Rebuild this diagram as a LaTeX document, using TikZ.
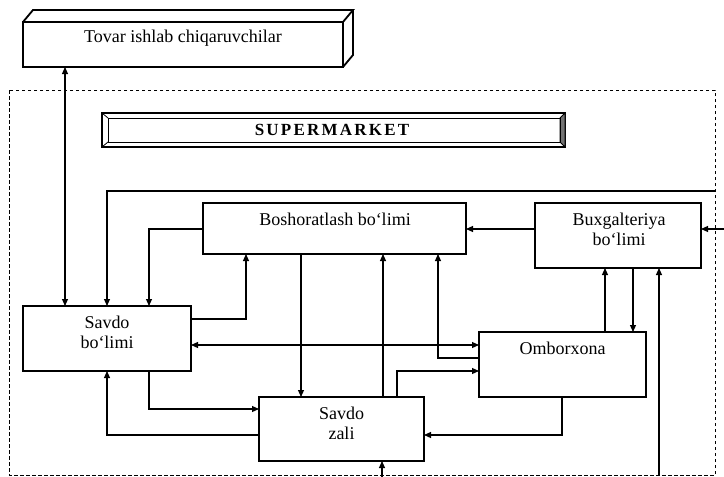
\documentclass[tikz,border=0pt]{standalone}
\usepackage{fontspec}
\setmainfont{Liberation Serif}
\usetikzlibrary{arrows.meta}
\begin{document}
\begin{tikzpicture}[x=1pt,y=-1pt,
  box/.style={draw, line width=1.2pt, inner sep=0pt, outer sep=0pt},
  lbl/.style={font=\fontsize{18}{20}\selectfont, anchor=base, inner sep=0pt},
  conn/.style={line width=1.1pt},
  arw/.style={-{Triangle[length=7pt,width=6pt]}},
  dbl/.style={{Triangle[length=7pt,width=6pt]}-{Triangle[length=7pt,width=6pt]}},
  bound/.style={line width=0.9pt, dash pattern=on 3.5pt off 2.5pt},
  solid3d/.style={line width=1.8pt, line join=miter}
]
\useasboundingbox (0,0) rectangle (724,477);

% outer dashed boundary
\draw[bound] (9,90) rectangle (715,475);

% top 3D box
\node[box, solid3d, minimum width=320, minimum height=45] (tov) at (183,44.5) {};
\draw[solid3d] (tov.north west) -- ++(10,-12) -- ++(320,0) -- (tov.north east);
\draw[solid3d] ([shift={(330,-12)}]tov.north west) -- ++(0,45) -- (tov.south east);
\node[lbl] (tovt) at (183,42) {Tovar ishlab chiqaruvchilar};

% SUPERMARKET banner
\node[box, line width=1.3pt, minimum width=463, minimum height=34] (sm) at (333.5,130) {};
\draw[line width=0.8pt, fill=black!55] ([shift={(-5,5)}]sm.north east) -- (sm.north east) -- (sm.south east) -- ([shift={(-5,-5)}]sm.south east) -- cycle;
\draw[line width=0.8pt] ([shift={(6,5)}]sm.north west) rectangle ([shift={(-5,-5)}]sm.south east);
\draw[line width=0.8pt] (sm.north west) -- ([shift={(6,5)}]sm.north west);
\draw[line width=0.8pt] (sm.south west) -- ([shift={(6,-5)}]sm.south west);
\node[anchor=base, inner sep=0pt, font={\fontsize{17}{19}\selectfont\bfseries\addfontfeatures{LetterSpace=13}}] (smt) at (332,135) {SUPERMARKET};

% boxes
\node[box, minimum width=263, minimum height=51] (bb) at (334.5,228.5) {};
\node[lbl] (bbt) at (335,225) {Boshoratlash bo‘limi};

\node[box, minimum width=166, minimum height=65] (bux) at (618,235.5) {};
\node[lbl] (buxt1) at (619,225) {Buxgalteriya};
\node[lbl] (buxt2) at (619,245) {bo‘limi};

\node[box, minimum width=168, minimum height=65] (sb) at (107,338.5) {};
\node[lbl] (sbt1) at (107,328) {Savdo};
\node[lbl] (sbt2) at (107,348) {bo‘limi};

\node[box, minimum width=167, minimum height=65] (om) at (562.5,364.5) {};
\node[lbl] (omt) at (562.5,354) {Omborxona};

\node[box, minimum width=165, minimum height=64] (sz) at (341.5,429) {};
\node[lbl] (szt1) at (341.5,419) {Savdo};
\node[lbl] (szt2) at (341.5,439) {zali};

% free ends
\coordinate (inR) at (715,191);
\coordinate (inB) at (724,229);
\coordinate (inP) at (659,475);
\coordinate (inZ) at (382,477);

% connectors
\draw[conn,dbl] (tov.south -| 65,0) -- (sb.north -| 65,0);
\draw[conn,arw] (inR) -| (sb.north -| 107,0);
\draw[conn,arw] (bb.west |- 0,229) -| (sb.north -| 149,0);
\draw[conn,arw] (sb.east |- 0,319) -| (bb.south -| 246,0);
\draw[conn,arw] (bb.south -| 301,0) -- (sz.north -| 301,0);
\draw[conn,arw] (sz.north -| 383,0) -- (bb.south -| 383,0);
\draw[conn,arw] (om.west |- 0,358) -| (bb.south -| 438,0);
\draw[conn,dbl] (sb.east |- 0,345) -- (om.west |- 0,345);
\draw[conn,arw] (sz.north -| 397,0) |- (om.west |- 0,371);
\draw[conn,arw] (om.south -| 562,0) |- (sz.east |- 0,435);
\draw[conn,arw] (sb.south -| 149,0) |- (sz.west |- 0,409);
\draw[conn,arw] (sz.west |- 0,435) -| (sb.south -| 107,0);
\draw[conn,arw] (bux.west |- 0,229) -- (bb.east |- 0,229);
\draw[conn,arw] (om.north -| 605,0) -- (bux.south -| 605,0);
\draw[conn,arw] (bux.south -| 633,0) -- (om.north -| 633,0);
\draw[conn,arw] (inP) -- (bux.south -| 659,0);
\draw[conn,arw] (inB) -- (bux.east |- 0,229);
\draw[conn,arw] (inZ) -- (sz.south -| 382,0);
\end{tikzpicture}
\end{document}
